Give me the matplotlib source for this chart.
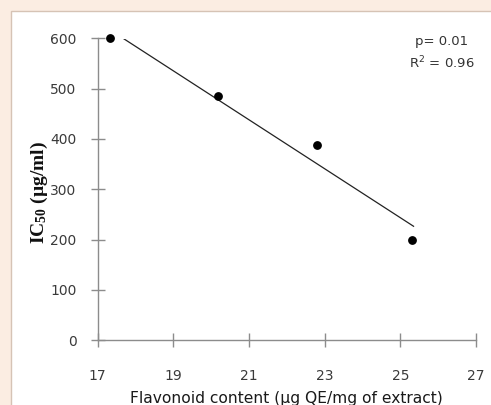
import numpy as np
import matplotlib
matplotlib.use("Agg")
import matplotlib.pyplot as plt
from matplotlib.patches import Rectangle

# data
flavonoid = [17.33, 20.19, 22.79, 25.32]
ic50 = [600, 486, 389, 199]
fit_range = [17.6, 25.35]
x_ticks = [17, 19, 21, 23, 25, 27]
y_ticks = [0, 100, 200, 300, 400, 500, 600]

plt.rcParams['mathtext.default'] = 'regular'

fig = plt.figure(figsize=(4.91, 4.05), dpi=100)
fig.patch.set_facecolor('#fbede2')

# white panel behind the chart
panel = Rectangle((11 / 491, -0.05), 1.0, 1 - 11 / 405 + 0.05, transform=fig.transFigure,
                  facecolor='white', edgecolor='#d6c3b5', linewidth=1.0, zorder=-10)
fig.patches.append(panel)

ax = fig.add_axes([97.5 / 491, (405 - 340) / 405, (476 - 97.5) / 491, (340 - 38.5) / 405])
ax.set_facecolor('none')

slope, intercept = np.polyfit(flavonoid, ic50, 1)
fx = np.array(fit_range)
ax.plot(fx, slope * fx + intercept, color='#222222', linewidth=0.9, zorder=2)
ax.plot(flavonoid, ic50, 'o', color='black', markersize=5.3, zorder=3, clip_on=False)

ax.set_xlim(17, 27)
ax.set_ylim(0, 600)
ax.set_xticks(x_ticks)
ax.set_yticks(y_ticks)

for side in ['top', 'right']:
    ax.spines[side].set_visible(False)
for side in ['left', 'bottom']:
    ax.spines[side].set_color('#8c8c8c')
    ax.spines[side].set_linewidth(1.0)

ax.tick_params(direction='inout', length=10, width=1.0, color='#8c8c8c',
               labelsize=10, labelcolor='#3a3a3a')
ax.tick_params(axis='x', pad=16)
ax.tick_params(axis='y', pad=10)

ax.set_xlabel('Flavonoid content (µg QE/mg of extract)', fontsize=11.2,
              color='#1a1a1a', labelpad=6)
ax.set_ylabel('IC$_{50}$ (µg/ml)', fontsize=14, fontweight='bold',
              family='Liberation Serif', color='#111111')
ax.yaxis.set_label_coords(-0.126, 0.49)

ax.text(0.91, 0.99, 'p= 0.01', transform=ax.transAxes, ha='center', va='center',
        fontsize=9.5, color='#333333')
ax.text(0.91, 0.92, 'R$^2$ = 0.96', transform=ax.transAxes, ha='center', va='center',
        fontsize=9.5, color='#333333')

fig.savefig('out.png', dpi=100, facecolor=fig.get_facecolor())
